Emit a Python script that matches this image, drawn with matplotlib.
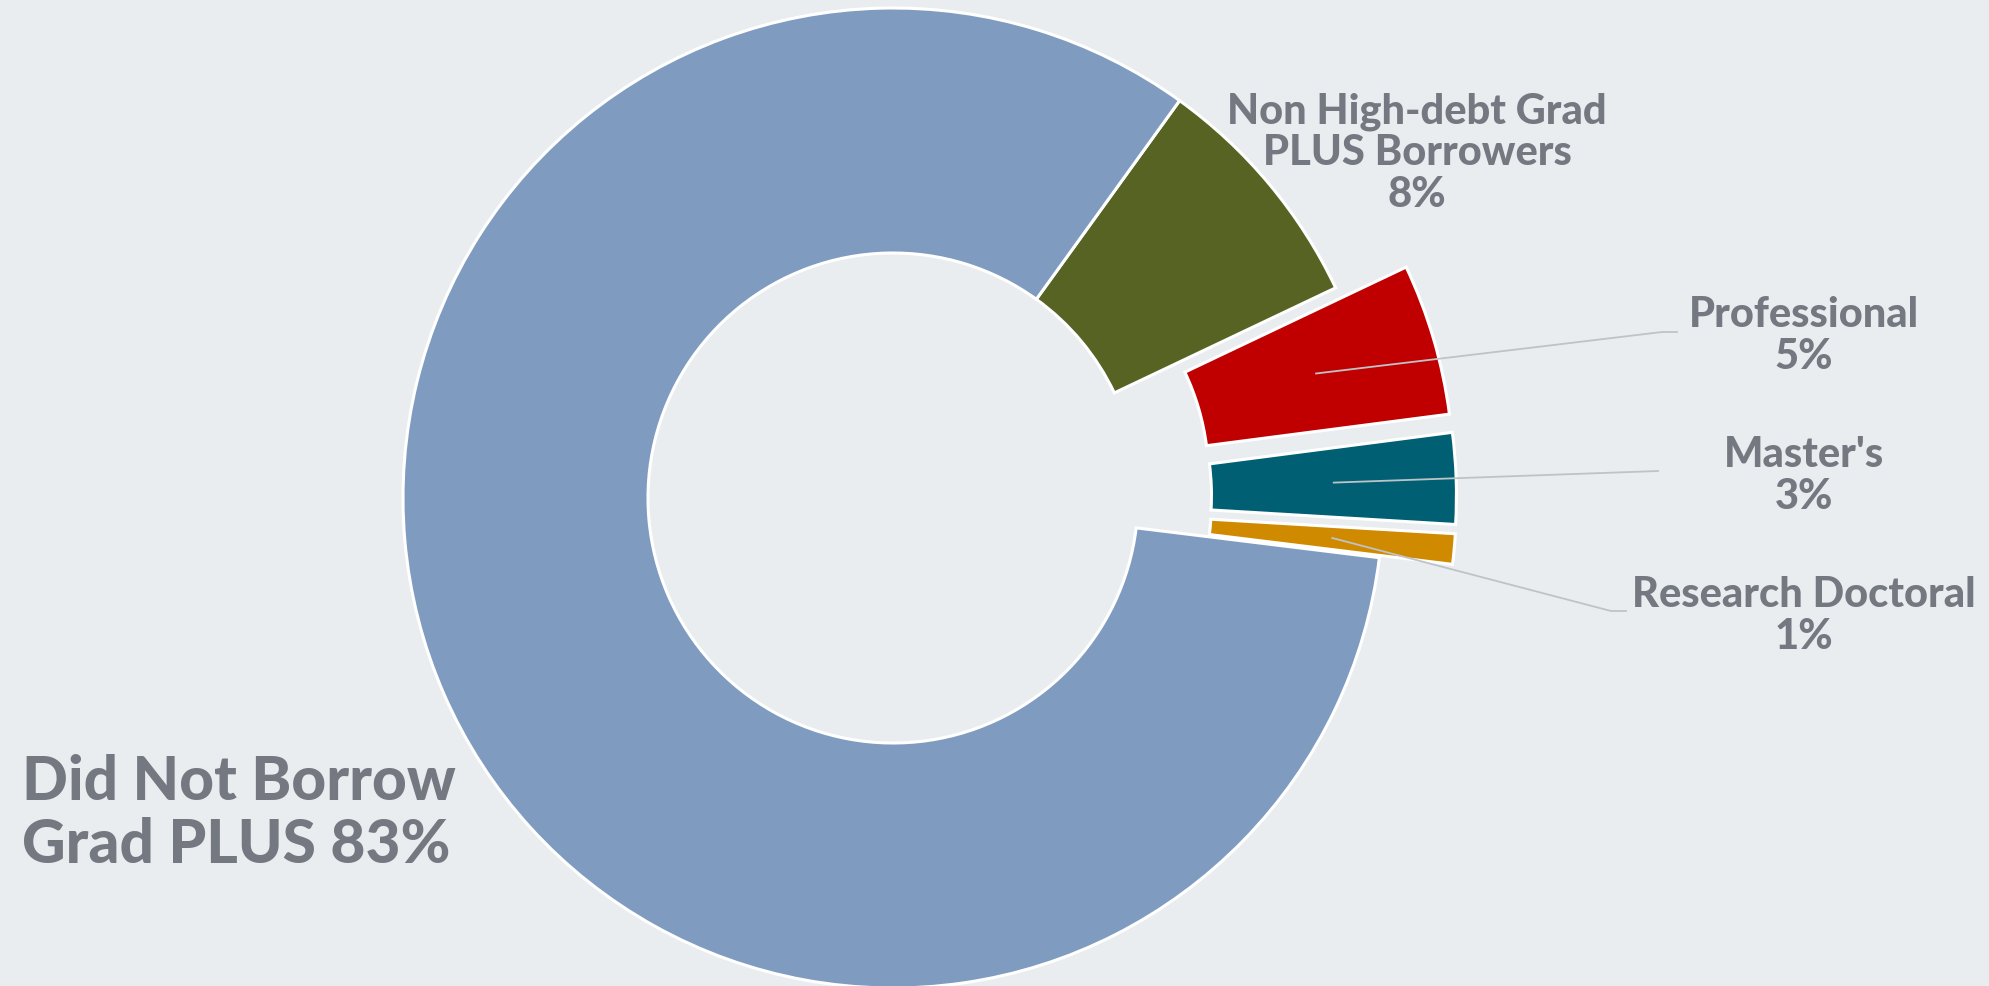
import numpy as np
import matplotlib.pyplot as plt

# data
labels = [
    "Non High-debt Grad\nPLUS Borrowers\n8%",
    "Professional\n5%",
    "Master's\n3%",
    "Research Doctoral\n1%",
    "Did Not Borrow\nGrad PLUS 83%",
]
values = [8, 5, 3, 1, 83]
colors = ["#566323", "#C00000", "#005F73", "#D08A00", "#7F9CC0"]
explode = [0, 0.15, 0.15, 0.15, 0]

bg = "#E9EDF0"
text_color = "#747981"
line_color = "#BFC3C7"

W, H = 1989, 986
cx, cy, R = 893, 498, 490


def to_data(px, py):
    # pixel (from top-left) -> data units of the pie
    return (px - cx) / R, (cy - py) / R


fig = plt.figure(figsize=(W / 100, H / 100), dpi=100, facecolor=bg)
ax = fig.add_axes([0, 0, 1, 1])
ax.set_facecolor(bg)

wedges, _ = ax.pie(
    values,
    colors=colors,
    explode=explode,
    startangle=54.2,
    counterclock=False,
    radius=1,
    wedgeprops=dict(width=0.5, edgecolor="white", linewidth=2.2),
)

ax.set_xlim(-cx / R, (W - cx) / R)
ax.set_ylim(-(H - cy) / R, cy / R)
ax.set_aspect("auto")
ax.axis("off")

font = dict(family=["Lato", "DejaVu Sans"], fontweight=900, color=text_color)

# big label
x, y = to_data(22, 782)
ax.text(x, y, labels[4].split("\n")[0], ha="left", va="center", fontsize=43.5, **font)
x, y = to_data(22, 845)
ax.text(x, y, labels[4].split("\n")[1], ha="left", va="center", fontsize=43.5, **font)

# top label (no leader)
x, y = to_data(1417, 153)
ax.text(x, y, labels[0], ha="center", va="center", fontsize=30, linespacing=1.12, **font)

# labels with leader lines
label_pos = [(1804, 336), (1804, 476), (1804, 616)]
line_pts = [
    [(1662, 332), (1677, 332)],
    [(1658, 471)],
    [(1611, 611), (1626, 611)],
]
for i, w in enumerate(wedges[1:4]):
    mid = np.deg2rad((w.theta1 + w.theta2) / 2)
    r0 = 0.75 + explode[i + 1]
    xs = [r0 * np.cos(mid)]
    ys = [r0 * np.sin(mid)]
    for p in line_pts[i]:
        a, b = to_data(*p)
        xs.append(a)
        ys.append(b)
    ax.plot(xs, ys, color=line_color, linewidth=1.3, zorder=5)
    x, y = to_data(*label_pos[i])
    ax.text(x, y, labels[i + 1], ha="center", va="center", fontsize=30, linespacing=1.12, **font)

fig.savefig("out.png", dpi=100, facecolor=bg)
